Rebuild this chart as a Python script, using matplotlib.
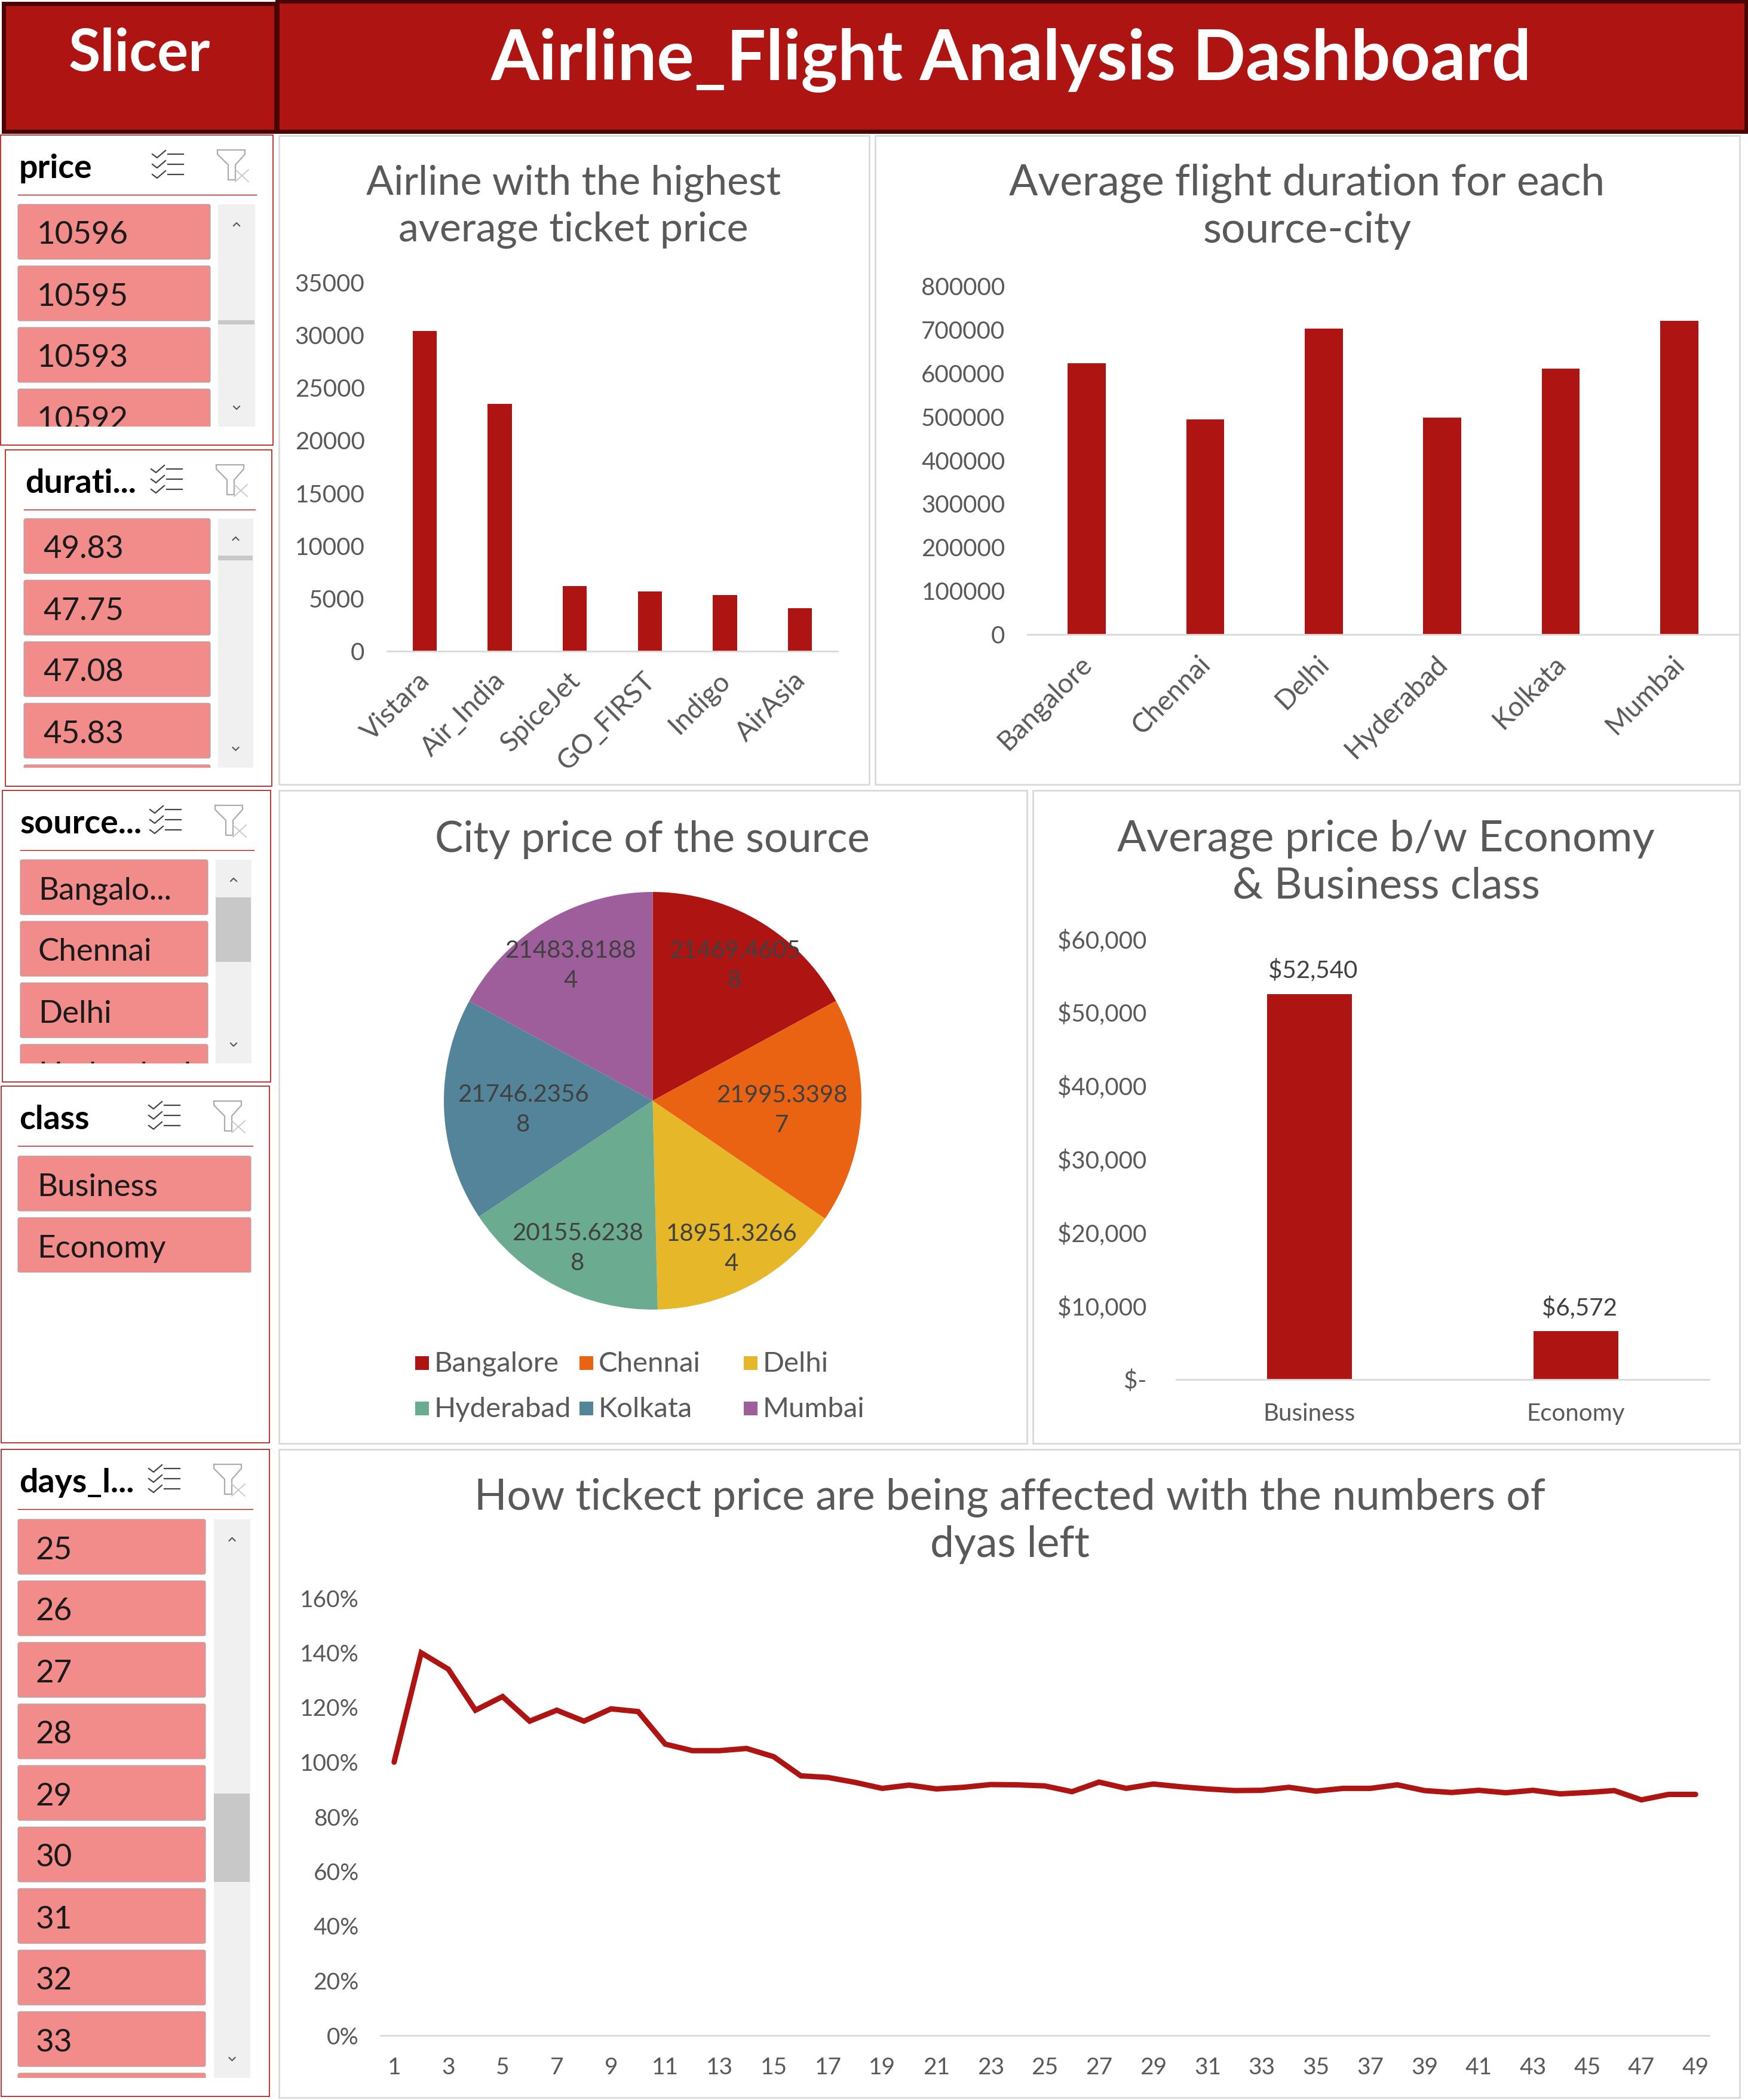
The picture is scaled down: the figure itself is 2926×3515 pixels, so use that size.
"""Airline flight dashboard: slicers, bars, pie and a line, laid out in pixel boxes."""
import math

import matplotlib
matplotlib.use("Agg")
import matplotlib.pyplot as plt
from matplotlib.patches import FancyBboxPatch, Rectangle
from matplotlib.transforms import ScaledTranslation

W, H = 2926, 3515
RED = "#AE1512"
DARK = "#4A0404"
GREY = "#595959"
EDGE = "#D9D9D9"
ITEM = "#F28C8B"

plt.rcParams["font.family"] = ["Lato", "DejaVu Sans"]

airlines = ["Vistara", "Air_India", "SpiceJet", "GO_FIRST", "Indigo", "AirAsia"]
airline_price = [30396, 23507, 6179, 5652, 5324, 4091]
airline_ticks = [0, 5000, 10000, 15000, 20000, 25000, 30000, 35000]

cities = ["Bangalore", "Chennai", "Delhi", "Hyderabad", "Kolkata", "Mumbai"]
city_duration = [623000, 494000, 703000, 498000, 611000, 721000]
duration_ticks = [0, 100000, 200000, 300000, 400000, 500000, 600000, 700000, 800000]

city_price = [21469.4605, 21995.3398, 18951.3266, 20155.6238, 21746.2356, 21483.8188]
city_price_labels = ["21469.4605\n8", "21995.3398\n7", "18951.3266\n4",
                     "20155.6238\n8", "21746.2356\n8", "21483.8188\n4"]
city_colors = ["#AE1512", "#EA6312", "#E6B729", "#6BAB90", "#54849A", "#9E5E9B"]
label_dist = [0.77, 0.62, 0.79, 0.78, 0.62, 0.77]

classes = ["Business", "Economy"]
class_price = [52540, 6572]
class_labels = ["$52,540", "$6,572"]
class_ticks = [0, 10000, 20000, 30000, 40000, 50000, 60000]
class_ticklabels = ["$-", "$10,000", "$20,000", "$30,000", "$40,000", "$50,000", "$60,000"]

days = list(range(1, 50))
days_pct = [100, 140, 134, 119, 124, 115, 119, 115, 119.5, 118.5,
            106.6, 104.2, 104.2, 105, 102, 95, 94.4, 92.6, 90.4, 91.6,
            90.2, 90.8, 91.8, 91.7, 91.3, 89.2, 92.7, 90.4, 92, 91,
            90.2, 89.6, 89.7, 90.8, 89.4, 90.4, 90.4, 91.7, 89.6, 88.9,
            89.7, 88.8, 89.7, 88.4, 88.9, 89.6, 86.2, 88.2, 88.2]
pct_ticks = [0, 20, 40, 60, 80, 100, 120, 140, 160]
day_ticks = list(range(1, 50, 2))

price_items = ["10596", "10595", "10593", "10592"]
duration_items = ["49.83", "47.75", "47.08", "45.83", ""]
source_items = ["Bangalo...", "Chennai", "Delhi", "Hyderabad"]
class_items = ["Business", "Economy"]
days_items = ["25", "26", "27", "28", "29", "30", "31", "32", "33", ""]

fig = plt.figure(figsize=(W / 100, H / 100), dpi=100, facecolor="white")
bg = fig.add_axes([0, 0, 1, 1])
bg.set_xlim(0, W)
bg.set_ylim(H, 0)
bg.axis("off")


def px_axes(x0, y0, x1, y1):
    ax = fig.add_axes([x0 / W, 1 - y1 / H, (x1 - x0) / W, (y1 - y0) / H])
    ax.patch.set_alpha(0)
    return ax


def box(x0, y0, x1, y1, face="white", edge=EDGE, lw=2.0):
    bg.add_patch(Rectangle((x0, y0), x1 - x0, y1 - y0, facecolor=face, edgecolor=edge, linewidth=lw))


def slicer(x0, y0, x1, y1, title, items, items_x, first_y, clip_y, text_x,
           scroll_x=None, thumb=None):
    box(x0, y0, x1, y1, edge=RED, lw=1.2)
    ix0, ix1 = items_x
    bg.text(text_x[0], y0 + 72, title, fontsize=40, fontweight="bold", color="black", va="baseline")
    bg.plot([ix0, x1 - 28], [y0 + 100, y0 + 100], color=RED, lw=1.0)
    # select-all icon
    ox = x1 - 202
    for k in range(3):
        yy = y0 + 32 + k * 17
        bg.plot([ox, ox + 8, ox + 22], [yy, yy + 6, yy - 6], color="#444444", lw=1.6)
        bg.plot([ox + 26, ox + 52], [yy, yy], color="#444444", lw=1.6)
    # clear-filter icon
    fx = x1 - 93
    bg.plot([fx, fx + 46, fx + 46, fx + 30, fx + 30, fx + 18, fx + 18, fx, fx],
            [y0 + 25, y0 + 25, y0 + 32, y0 + 50, y0 + 75, y0 + 75, y0 + 50, y0 + 32, y0 + 25],
            color="#ABABAB", lw=1.6)
    bg.plot([fx + 30, fx + 52], [y0 + 58, y0 + 78], color="#C4C4C4", lw=1.2)
    bg.plot([fx + 30, fx + 52], [y0 + 78, y0 + 58], color="#C4C4C4", lw=1.2)

    clip = Rectangle((ix0 - 4, first_y - 4), ix1 - ix0 + 8, clip_y - first_y + 4,
                     transform=bg.transData)
    for i, label in enumerate(items):
        top = first_y + i * 103
        p = FancyBboxPatch((ix0, top), ix1 - ix0, 92, boxstyle="round,pad=0,rounding_size=3",
                           facecolor=ITEM, edgecolor="#A8A8A8", linewidth=0.8)
        bg.add_patch(p)
        p.set_clip_path(clip)
        if label:
            t = bg.text(text_x[1], top + 52, label, fontsize=38, color="#1A1A1A", va="center",
                        clip_on=True)
            t.set_clip_path(clip)

    if scroll_x is not None:
        sx0, sx1 = scroll_x
        mid = (sx0 + sx1) / 2
        bg.add_patch(Rectangle((sx0, first_y), sx1 - sx0, clip_y - first_y, facecolor="#F0F0F0", edgecolor="none"))
        bg.add_patch(Rectangle((sx0, thumb[0]), sx1 - sx0 - 1, thumb[1] - thumb[0], facecolor="#C8C8C8", edgecolor="none"))
        bg.plot([mid - 5, mid, mid + 5], [first_y + 36, first_y + 31, first_y + 36], color="#555555", lw=1.5)
        bg.plot([mid - 5, mid, mid + 5], [clip_y - 34, clip_y - 29, clip_y - 34], color="#555555", lw=1.5)


def style_axis(ax, fontsize=29):
    for side in ("top", "left", "right"):
        ax.spines[side].set_visible(False)
    ax.spines["bottom"].set_color(EDGE)
    ax.spines["bottom"].set_linewidth(2.0)
    ax.tick_params(length=0, labelsize=fontsize, labelcolor=GREY, pad=14)


def chart_title(cx, lines, y0, size=50):
    for i, line in enumerate(lines):
        bg.text(cx, y0 + 4 + i * 78, line, fontsize=size, color=GREY, ha="center", va="center")


def bar_chart(rect, names, values, ticks, ymax, rotate=True):
    ax = px_axes(*rect)
    ax.bar(range(len(names)), values, width=0.32, color=RED)
    ax.set_xlim(-0.5, len(names) - 0.5)
    ax.set_ylim(0, ymax)
    ax.set_yticks(ticks)
    ax.set_xticks(range(len(names)))
    if rotate:
        ax.set_xticklabels(names, rotation=45, ha="right", rotation_mode="anchor")
    else:
        ax.set_xticklabels(names)
    style_axis(ax)
    ax.tick_params(axis="y", pad=27)
    ax.tick_params(axis="x", pad=20)
    for lab in ax.get_xticklabels():
        lab.set_fontsize(33 if rotate else 29)
        if rotate:
            # slanted labels sit a little left of the tick; tick_params resets this, so do it last
            lab.set_transform(lab.get_transform() + ScaledTranslation(-13 / 100, 0, fig.dpi_scale_trans))
    return ax


# header
box(6, 6, 462, 220, face=RED, edge=DARK, lw=5)
box(464, 2, 2923, 220, face=RED, edge=DARK, lw=5)
bg.text(233, 90, "Slicer", fontsize=70, fontweight="bold", color="white", ha="center", va="center")
bg.text(1693, 101, "Airline_Flight Analysis Dashboard", fontsize=84, fontweight="bold",
        color="white", ha="center", va="center")

# slicers
slicer(1, 226, 457, 745, "price", price_items, (30, 352), 342, 714, (32, 62),
       (365, 427), (536, 543))
slicer(9, 753, 455, 1316, "durati...", duration_items, (40, 352), 868, 1285, (42, 72),
       (365, 424), (930, 938))
slicer(4, 1323, 453, 1811, "source...", source_items, (34, 348), 1439, 1780, (34, 64),
       (361, 421), (1502, 1610))
slicer(2, 1818, 451, 2415, "class", class_items, (30, 420), 1935, 2130, (32, 62))
slicer(2, 2426, 451, 3509, "days_l...", days_items, (30, 344), 2543, 3478, (32, 60),
       (358, 419), (3002, 3150))

# chart panels
box(467, 227, 1455, 1313)
box(1465, 227, 2912, 1313)
box(467, 1323, 1719, 2416)
box(1729, 1323, 2912, 2416)
box(467, 2426, 2912, 3511)

chart_title(960, ["Airline with the highest", "average ticket price"], 303, size=49)
ax = bar_chart((648, 473, 1402, 1090), airlines, airline_price, airline_ticks, 35000)

chart_title(2188, ["Average flight duration for each", "source-city"], 303, size=51.5)
ax = bar_chart((1720, 479, 2910, 1062), cities, city_duration, duration_ticks, 800000)

# pie
chart_title(1092, ["City price of the source"], 1401, size=51)
ax = px_axes(743, 1493, 1442, 2192)
wedges, _ = ax.pie(city_price, colors=city_colors, startangle=90, counterclock=False, radius=1.0)
ax.set_xlim(-1, 1)
ax.set_ylim(-1, 1)
for w, label, dist in zip(wedges, city_price_labels, label_dist):
    ang = math.radians((w.theta1 + w.theta2) / 2)
    ax.text(dist * math.cos(ang), dist * math.sin(ang) - 0.015, label, ha="center", va="center",
            fontsize=29, color="#404040", linespacing=1.45)
# legend is three even columns in the reference, so place it by hand
for i, city in enumerate(cities):
    lx = 695 + (i % 3) * 275
    ly = 2281 + (i // 3) * 76
    bg.add_patch(Rectangle((lx, ly - 11), 23, 23, facecolor=city_colors[i], edgecolor="none"))
    bg.text(lx + 32, ly + 2, city, fontsize=34, color=GREY, va="center")

# class bars
chart_title(2320, ["Average price b/w Economy", "& Business class"], 1401, size=52)
ax = bar_chart((1969, 1572, 2861, 2309), classes, class_price, class_ticks, 60000, rotate=False)
ax.set_yticklabels(class_ticklabels)
ax.tick_params(axis="y", pad=36)
ax.tick_params(axis="x", pad=28)
for i, (v, lab) in enumerate(zip(class_price, class_labels)):
    ax.annotate(lab, (i, v), xytext=(6, 19), textcoords="offset pixels", ha="center",
                va="bottom", fontsize=29, color="#404040")

# line
chart_title(1690, ["How tickect price are being affected with the numbers of", "dyas left"], 2503, size=51.5)
ax = px_axes(637, 2675, 2861, 3407)
ax.plot(days, [v / 100 for v in days_pct], color=RED, lw=6.5, solid_capstyle="round", solid_joinstyle="miter")
ax.set_xlim(0.5, 49.5)
ax.set_ylim(0, 1.6)
ax.set_yticks([v / 100 for v in pct_ticks])
ax.set_yticklabels([f"{v}%" for v in pct_ticks])
ax.set_xticks(day_ticks)
style_axis(ax, fontsize=28)
ax.tick_params(axis="x", pad=26)
ax.tick_params(axis="y", pad=26)

fig.savefig("out.png", dpi=100)
